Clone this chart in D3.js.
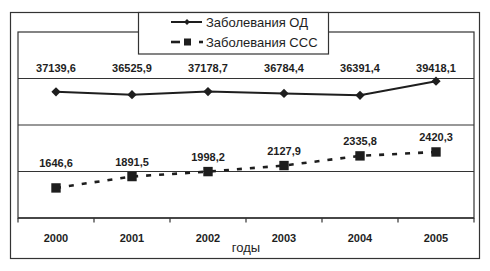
<!DOCTYPE html>
<html><head><meta charset="utf-8">
<script src="https://cdn.jsdelivr.net/npm/d3@7"></script>
<style>
html,body{margin:0;padding:0;background:#fff;}
svg{display:block;font-family:"Liberation Sans",Arial,sans-serif;}
</style></head>
<body>
<svg id="chart" width="490" height="271"></svg>
<script>
const years = ["2000","2001","2002","2003","2004","2005"];
const odValues = [37139.6, 36525.9, 37178.7, 36784.4, 36391.4, 39418.1];
const cccValues = [1646.6, 1891.5, 1998.2, 2127.9, 2335.8, 2420.3];
const odLabels = ["37139,6","36525,9","37178,7","36784,4","36391,4","39418,1"];
const cccLabels = ["1646,6","1891,5","1998,2","2127,9","2335,8","2420,3"];
const gridValues = [2000, 3000, 4000];
const seriesNames = ["Заболевания ОД", "Заболевания ССС"];
const axisTitle = "годы";

const svg = d3.select("#chart");
const ink = "#1e1e1e";
const L = 18, R = 474, T = 32, B = 218;

// outer frame
svg.append("rect").attr("x",10.5).attr("y",12.5).attr("width",469).attr("height",246)
  .attr("fill","#fff").attr("stroke","#333").attr("stroke-width",1.2);

const x = d3.scaleBand().domain(years).range([L, R]).padding(0);
const y = d3.scaleLinear().domain([1000, 5000]).range([B, T]);
const yOD = d3.scaleLinear().domain([10000, 50000]).range([B, T]);

// plot frame
svg.append("rect").attr("x",L).attr("y",T).attr("width",R-L).attr("height",B-T)
  .attr("fill","none").attr("stroke","#333").attr("stroke-width",1.2);

// gridlines
svg.append("g").selectAll("line").data(gridValues).join("line")
  .attr("x1",L).attr("x2",R).attr("y1",d=>y(d)).attr("y2",d=>y(d))
  .attr("stroke","#333").attr("stroke-width",1.2);

// x axis ticks at band edges
const edges = years.map(d=>x(d)).concat([x(years[years.length-1])+x.bandwidth()]);
svg.append("g").selectAll("line").data(edges).join("line")
  .attr("x1",d=>d).attr("x2",d=>d).attr("y1",B).attr("y2",B+4.5)
  .attr("stroke","#333").attr("stroke-width",1.2);
svg.append("line").attr("x1",L).attr("x2",R).attr("y1",B).attr("y2",B)
  .attr("stroke","#333").attr("stroke-width",1.4);

svg.append("g").selectAll("text").data(years).join("text")
  .attr("x",d=>x(d)+x.bandwidth()/2).attr("y",241.5)
  .attr("text-anchor","middle").attr("font-size",11).attr("font-weight","bold")
  .attr("fill",ink).text(d=>d);

svg.append("text").attr("x",246).attr("y",251.5).attr("text-anchor","middle")
  .attr("font-size",13).attr("fill",ink).text(axisTitle);

const cx = (d,i)=>x(years[i])+x.bandwidth()/2;

// OD series
const lineOD = d3.line().x((d,i)=>cx(d,i)).y(d=>yOD(d));
svg.append("path").datum(odValues).attr("d",lineOD).attr("fill","none")
  .attr("stroke",ink).attr("stroke-width",2);
const diamond = d3.symbol().type(d3.symbolDiamond2).size(55);
svg.append("g").selectAll("path").data(odValues).join("path")
  .attr("d",diamond).attr("transform",(d,i)=>`translate(${cx(d,i)},${yOD(d)})`)
  .attr("fill",ink);

// CCC series
const lineC = d3.line().x((d,i)=>cx(d,i)).y(d=>y(d));
svg.append("path").datum(cccValues).attr("d",lineC).attr("fill","none")
  .attr("stroke",ink).attr("stroke-width",2.6).attr("stroke-dasharray","5,8");
svg.append("g").selectAll("rect").data(cccValues).join("rect")
  .attr("x",(d,i)=>cx(d,i)-4.7).attr("y",d=>y(d)-4.7).attr("width",9.4).attr("height",9.4)
  .attr("fill",ink);

// data labels
svg.append("g").selectAll("text").data(odLabels).join("text")
  .attr("x",(d,i)=>cx(d,i)).attr("y",y(4000)-7)
  .attr("text-anchor","middle").attr("font-size",11).attr("font-weight","bold")
  .attr("fill",ink).text(d=>d);

function cccLabelY(v){
  let b = y(v) - 11;
  gridValues.forEach(g=>{ const gy = y(g); if (b + 2 > gy && b - 9 < gy) b = gy - 5; });
  return b;
}
svg.append("g").selectAll("text").data(cccLabels).join("text")
  .attr("x",(d,i)=>cx(d,i)).attr("y",(d,i)=>cccLabelY(cccValues[i]))
  .attr("text-anchor","middle").attr("font-size",11).attr("font-weight","bold")
  .attr("fill",ink).text(d=>d);

// legend
const lg = svg.append("g");
lg.append("rect").attr("x",138.5).attr("y",12.5).attr("width",190).attr("height",41.5)
  .attr("fill","#fff").attr("stroke","#333").attr("stroke-width",1.2);
lg.append("line").attr("x1",171).attr("x2",202).attr("y1",22).attr("y2",22)
  .attr("stroke",ink).attr("stroke-width",2);
lg.append("path").attr("d",d3.symbol().type(d3.symbolDiamond2).size(22))
  .attr("transform","translate(187,22)").attr("fill",ink);
lg.append("line").attr("x1",171).attr("x2",180).attr("y1",42).attr("y2",42)
  .attr("stroke",ink).attr("stroke-width",2.6);
lg.append("line").attr("x1",199).attr("x2",203).attr("y1",42).attr("y2",42)
  .attr("stroke",ink).attr("stroke-width",2.6);
lg.append("rect").attr("x",184).attr("y",38.5).attr("width",7).attr("height",7).attr("fill",ink);
lg.selectAll("text").data(seriesNames).join("text")
  .attr("x",206).attr("y",(d,i)=>26.5+i*20).attr("font-size",13).attr("fill",ink).text(d=>d);
</script>
</body></html>
